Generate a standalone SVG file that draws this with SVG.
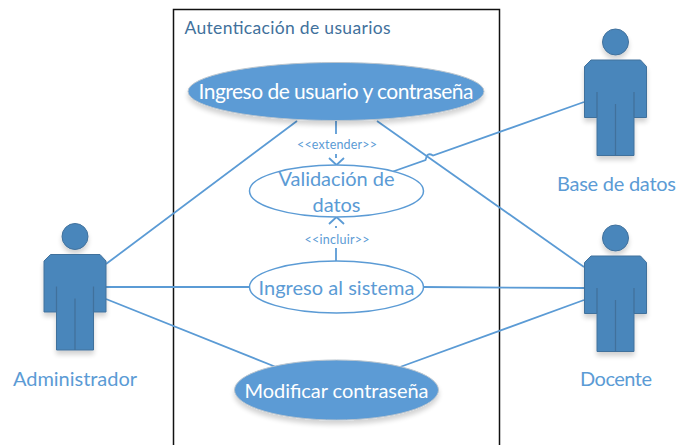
<svg xmlns="http://www.w3.org/2000/svg" width="679" height="445" viewBox="0 0 679 445">
<defs>
<filter id="sh" x="-20%" y="-20%" width="140%" height="150%"><feGaussianBlur in="SourceAlpha" stdDeviation="2.5"/><feOffset dy="4"/><feComponentTransfer><feFuncA type="linear" slope="0.18"/></feComponentTransfer><feMerge><feMergeNode/><feMergeNode in="SourceGraphic"/></feMerge></filter>
<g id="actor">
<circle cx="31" cy="-18" r="13" class="af"/>
<path d="M6.500 0H56L62 6.500V57.500H49.500V95.500H12.500V57.500H0V6.500Z" class="af"/>
<path d="M12.500 32V57.500M49.500 32V57.500M31 44V95.500" fill="none" stroke="#41719c" stroke-width="1.300"/>
</g>
</defs>
<style>
text{font-family:Lato,"Liberation Sans",sans-serif;text-anchor:middle}
.af{fill:#4a86bb;stroke:#41719c;stroke-width:1}
.c{fill:none;stroke:#5b9bd5;stroke-width:1.800}
.u{fill:#fff;stroke:#5b9bd5;stroke-width:1.500}
.f{fill:#5b9bd5;stroke:#b9c4ce;stroke-width:1}
.l{fill:#5b9bd5;font-size:20px}
.w{fill:#fff;font-size:21px}
.s{fill:#5b9bd5;font-size:12.500px}
</style>
<rect width="679" height="445" fill="#fff"/>
<g id="boundary">
<path d="M173.500 445V9.500H499.500V445" fill="none" stroke="#111" stroke-width="1.500"/>
<text x="287.500" y="33.500" font-size="17.500" fill="#41719c" textLength="206" lengthAdjust="spacing">Autenticación de usuarios</text>
</g>
<g id="connectors">
<path class="c" d="M106 264L297 121"/>
<path class="c" d="M106 287H249"/>
<path class="c" d="M106 299L276 367"/>
<path class="c" d="M377 121L584 267"/>
<path class="c" d="M423 287L584 288"/>
<path class="c" d="M400 367L584 300"/>
<path class="c" d="M393 171.500L425.500 160L427 155.500Q429 153 433 155.500L584 102"/>
<path class="c" d="M336 121V134"/>
<path class="c" d="M336 154V158M336 164V166"/>
<path class="c" d="M329 158L336.500 165L344 158"/>
<path class="c" d="M336 261V248"/>
<path class="c" d="M336 228V226"/>
<path class="c" d="M329 224L336.500 217L344 224"/>
<text class="s" x="337" y="149" textLength="80">&lt;&lt;extender&gt;&gt;</text>
<text class="s" x="337" y="244" textLength="65">&lt;&lt;incluir&gt;&gt;</text>
</g>
<g id="uc1"><ellipse class="f" cx="336" cy="91.500" rx="148" ry="29" filter="url(#sh)"/><text class="w" x="336" y="99" textLength="275">Ingreso de usuario y contraseña</text></g>
<g id="uc2"><ellipse class="u" cx="336.500" cy="191" rx="87" ry="26"/><text class="l" x="336.500" y="186" textLength="116" font-size="21">Validación de</text><text class="l" x="336.500" y="212" textLength="48">datos</text></g>
<g id="uc3"><ellipse class="u" cx="336.500" cy="287" rx="87" ry="26"/><text class="l" x="336.500" y="295" textLength="156">Ingreso al sistema</text></g>
<g id="uc4"><ellipse class="f" cx="336.500" cy="390" rx="102" ry="30" filter="url(#sh)"/><text class="w" x="336.500" y="398" textLength="184" style="font-size:20px">Modificar contraseña</text></g>
<g id="admin"><use href="#actor" x="44" y="254.500" filter="url(#sh)"/><text class="l" x="75" y="386" textLength="124">Administrador</text></g>
<g id="base"><use href="#actor" x="584.500" y="60" filter="url(#sh)"/><text class="l" x="616.500" y="191" textLength="119">Base de datos</text></g>
<g id="docente"><use href="#actor" x="584.500" y="256" filter="url(#sh)"/><text class="l" x="616" y="386" textLength="72">Docente</text></g>
</svg>
